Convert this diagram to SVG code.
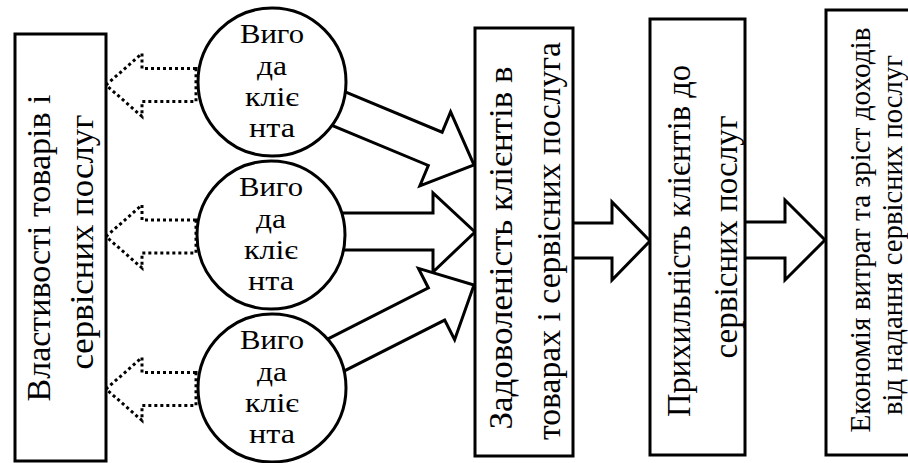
<svg xmlns="http://www.w3.org/2000/svg" width="908" height="463" viewBox="0 0 908 463">
<style>
.box{fill:#fff;stroke:#000;stroke-width:3}
.circ{fill:#fff;stroke:#000;stroke-width:3}
.blk{fill:#fff;stroke:#000;stroke-width:3;stroke-linejoin:miter}
.dot{fill:none;stroke:#000;stroke-width:3;stroke-dasharray:3 3}
text{font-family:"Liberation Serif","DejaVu Serif","Times New Roman",serif;fill:#000;text-anchor:middle}
.ct{font-size:27px}
</style>
<defs>
<path id="dotArrow" d="M196,-16.5 L142,-16.5 L142,-31.5 L106,0 L142,31.5 L142,16.5 L196,16.5 Z"/>
</defs>
<g id="connectors">
  <use href="#dotArrow" class="dot" transform="translate(0,85)"/>
  <use href="#dotArrow" class="dot" transform="translate(0,236.5)"/>
  <use href="#dotArrow" class="dot" transform="translate(0,389)"/>
  <path class="blk" transform="translate(474,165) rotate(22.6)" d="M-160,-18 L-42,-18 L-42,-40 L0,0 L-42,40 L-42,18 L-160,18 Z"/>
  <path class="blk" d="M320,213 L433,213 L433,193 L475,232 L433,272 L433,250 L320,250 Z"/>
  <path class="blk" transform="translate(474,285) rotate(-26.9)" d="M-165,-18 L-42,-18 L-42,-40 L0,0 L-42,40 L-42,18 L-165,18 Z"/>
  <path class="blk" d="M570,223 L612,223 L612,202 L650,241 L612,280 L612,258 L570,258 Z"/>
  <path class="blk" d="M742,222 L785,222 L785,200 L825,240 L785,280 L785,258 L742,258 Z"/>
</g>
<g id="box1">
  <rect class="box" x="15" y="34" width="91" height="427"/>
  <text font-size="34" textLength="307" lengthAdjust="spacingAndGlyphs" transform="translate(50,248) rotate(-90)">Властивості товарів і</text>
  <text font-size="34" textLength="255" lengthAdjust="spacingAndGlyphs" transform="translate(93,242) rotate(-90)">сервісних послуг</text>
</g>
<g id="circle1">
  <circle class="circ" cx="272" cy="82" r="74"/>
  <text class="ct" x="272" y="43" textLength="64" lengthAdjust="spacingAndGlyphs">Виго</text>
  <text class="ct" x="272" y="75" textLength="30" lengthAdjust="spacingAndGlyphs">да</text>
  <text class="ct" x="272" y="106" textLength="54" lengthAdjust="spacingAndGlyphs">кліє</text>
  <text class="ct" x="272" y="137" textLength="46" lengthAdjust="spacingAndGlyphs">нта</text>
</g>
<g id="circle2">
  <circle class="circ" cx="271" cy="235" r="74"/>
  <text class="ct" x="271" y="196" textLength="64" lengthAdjust="spacingAndGlyphs">Виго</text>
  <text class="ct" x="271" y="228" textLength="30" lengthAdjust="spacingAndGlyphs">да</text>
  <text class="ct" x="271" y="259" textLength="54" lengthAdjust="spacingAndGlyphs">кліє</text>
  <text class="ct" x="271" y="290" textLength="46" lengthAdjust="spacingAndGlyphs">нта</text>
</g>
<g id="circle3">
  <circle class="circ" cx="272" cy="388" r="74"/>
  <text class="ct" x="272" y="349" textLength="64" lengthAdjust="spacingAndGlyphs">Виго</text>
  <text class="ct" x="272" y="381" textLength="30" lengthAdjust="spacingAndGlyphs">да</text>
  <text class="ct" x="272" y="412" textLength="54" lengthAdjust="spacingAndGlyphs">кліє</text>
  <text class="ct" x="272" y="443" textLength="46" lengthAdjust="spacingAndGlyphs">нта</text>
</g>
<g id="box2">
  <rect class="box" x="475" y="28" width="98" height="428"/>
  <text font-size="34" textLength="363" lengthAdjust="spacingAndGlyphs" transform="translate(512,248) rotate(-90)">Задоволеність клієнтів в</text>
  <text font-size="34" textLength="398" lengthAdjust="spacingAndGlyphs" transform="translate(560,241) rotate(-90)">товарах і сервісних послуга</text>
</g>
<g id="box3">
  <rect class="box" x="650" y="19" width="95" height="436"/>
  <text font-size="33" textLength="352" lengthAdjust="spacingAndGlyphs" transform="translate(690,241) rotate(-90)">Прихильність клієнтів до</text>
  <text font-size="33" textLength="243" lengthAdjust="spacingAndGlyphs" transform="translate(737,237) rotate(-90)">сервісних послуг</text>
</g>
<g id="box4">
  <rect class="box" x="826" y="10" width="100" height="445"/>
  <text font-size="29" textLength="405" lengthAdjust="spacingAndGlyphs" transform="translate(870,230) rotate(-90)">Економія витрат та зріст доходів</text>
  <text font-size="29" textLength="360" lengthAdjust="spacingAndGlyphs" transform="translate(902,235) rotate(-90)">від надання сервісних послуг</text>
</g>
</svg>
